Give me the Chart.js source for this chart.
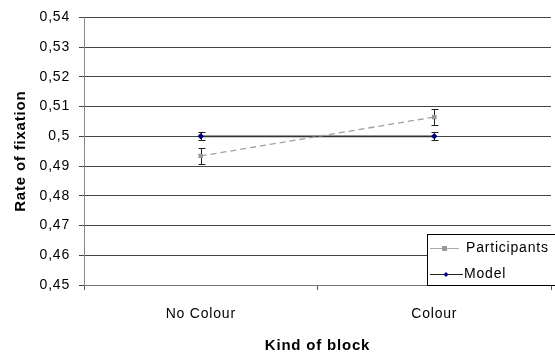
<!DOCTYPE html>
<html>
<head>
<meta charset="utf-8">
<script src="https://cdn.jsdelivr.net/npm/chart.js@4/dist/chart.umd.min.js"></script>
<style>
html,body{margin:0;padding:0;background:#fff;overflow:hidden;}
#wrap{width:555px;height:353px;position:relative;}
</style>
</head>
<body>
<div id="wrap"><canvas id="c" width="555" height="353"></canvas></div>
<script>
const categories = ["No Colour", "Colour"];
const participants = [0.4934, 0.5065];
const participantsErr = [0.0027, 0.0027];
const model = [0.5, 0.5];
const modelErr = [0.0013, 0.0013];
const yTicks = [0.45, 0.46, 0.47, 0.48, 0.49, 0.5, 0.51, 0.52, 0.53, 0.54];
const seriesNames = ["Participants", "Model"];

const FONT = "'Liberation Sans', Arial, sans-serif";
const SPACING = '0.8px';

const spacingPlugin = {
  id: 'spacing',
  beforeLayout(chart) { chart.ctx.letterSpacing = SPACING; },
  beforeDraw(chart) { chart.ctx.letterSpacing = SPACING; }
};

const errorBars = {
  id: 'errorBars',
  afterDatasetsDraw(chart) {
    const ctx = chart.ctx, y = chart.scales.y;
    chart.data.datasets.forEach((ds, i) => {
      const meta = chart.getDatasetMeta(i);
      if (!ds.errors) return;
      ctx.save();
      ctx.strokeStyle = '#222';
      ctx.lineWidth = 1;
      meta.data.forEach((pt, j) => {
        const v = ds.data[j], e = ds.errors[j];
        const x = Math.round(pt.x) + 0.5;
        const yt = Math.round(y.getPixelForValue(v + e)) + 0.5;
        const yb = Math.round(y.getPixelForValue(v - e)) + 0.5;
        ctx.beginPath();
        ctx.moveTo(x, yt); ctx.lineTo(x, yb);
        ctx.moveTo(x - 3, yt); ctx.lineTo(x + 4, yt);
        ctx.moveTo(x - 3, yb); ctx.lineTo(x + 4, yb);
        ctx.stroke();
      });
      ctx.restore();
      meta.data.forEach(pt => pt.draw(ctx, chart.chartArea));
    });
  }
};

const boxLegend = {
  id: 'boxLegend',
  afterDraw(chart) {
    const ctx = chart.ctx;
    const x0 = 427, y0 = 234, x1 = 556, y1 = 285;
    ctx.save();
    ctx.letterSpacing = SPACING;
    ctx.fillStyle = '#fff';
    ctx.fillRect(x0, y0, x1 - x0, y1 - y0);
    ctx.strokeStyle = '#000';
    ctx.lineWidth = 1;
    ctx.strokeRect(x0 + 0.5, y0 + 0.5, x1 - x0, y1 - y0);
    ctx.font = '14px ' + FONT;
    ctx.textBaseline = 'middle';
    let yy = 248.5;
    ctx.strokeStyle = '#aaa';
    ctx.beginPath(); ctx.moveTo(430, yy); ctx.lineTo(459, yy); ctx.stroke();
    ctx.fillStyle = '#999';
    ctx.fillRect(442, yy - 2.5, 5, 5);
    ctx.fillStyle = '#000';
    ctx.fillText(seriesNames[0], 466, yy);
    yy = 274.5;
    ctx.strokeStyle = '#222';
    ctx.beginPath(); ctx.moveTo(430, yy); ctx.lineTo(463, yy); ctx.stroke();
    ctx.fillStyle = '#000080';
    ctx.beginPath(); ctx.moveTo(446, yy - 2.5); ctx.lineTo(448.5, yy); ctx.lineTo(446, yy + 2.5); ctx.lineTo(443.5, yy); ctx.closePath(); ctx.fill();
    ctx.fillStyle = '#000';
    ctx.fillText(seriesNames[1], 464, yy);
    ctx.restore();
  }
};

new Chart(document.getElementById('c'), {
  type: 'line',
  data: {
    labels: categories,
    datasets: [
      {
        label: seriesNames[0],
        data: participants,
        errors: participantsErr,
        borderColor: '#a0a0a0',
        borderWidth: 1.3,
        borderDash: [6, 4],
        pointStyle: 'rect',
        pointRadius: 3,
        pointBackgroundColor: '#999',
        pointBorderColor: '#999',
        pointBorderWidth: 0,
        fill: false,
        tension: 0
      },
      {
        label: seriesNames[1],
        data: model,
        errors: modelErr,
        borderColor: '#333',
        borderWidth: 1.6,
        pointStyle: 'rectRot',
        pointRadius: 3,
        pointBackgroundColor: '#000080',
        pointBorderColor: '#000080',
        pointBorderWidth: 0,
        fill: false,
        tension: 0
      }
    ]
  },
  options: {
    responsive: false,
    animation: false,
    devicePixelRatio: 1,
    layout: { padding: { top: 17, right: 0, left: 0, bottom: 0 } },
    plugins: { legend: { display: false }, tooltip: { enabled: false } },
    scales: {
      x: {
        type: 'category',
        offset: true,
        grid: { display: true, offset: true, drawOnChartArea: false, color: '#555', tickLength: 5 },
        border: { display: true, color: '#777' },
        ticks: { color: '#000', font: { family: FONT, size: 14 }, padding: 16, maxRotation: 0 },
        title: { display: true, text: 'Kind of block', color: '#000', font: { family: FONT, size: 15, weight: 'bold', lineHeight: 1 }, padding: { top: 10, bottom: 0 } },
        afterFit(s) { s.height = 68; }
      },
      y: {
        min: 0.45,
        max: 0.54,
        afterBuildTicks(s) { s.ticks = yTicks.map(v => ({ value: v })); },
        grid: { color: '#444', lineWidth: 1, tickLength: 5 },
        border: { display: true, color: '#888' },
        ticks: {
          color: '#000',
          font: { family: FONT, size: 14 },
          padding: 9,
          callback: v => String(parseFloat(v.toFixed(2))).replace('.', ',')
        },
        title: { display: true, text: 'Rate of fixation', color: '#000', font: { family: FONT, size: 15, weight: 'bold' }, padding: { top: 12, bottom: 0 } },
        afterFit(s) { s.width = 84; }
      }
    }
  },
  plugins: [spacingPlugin, errorBars, boxLegend]
});
</script>
</body>
</html>
